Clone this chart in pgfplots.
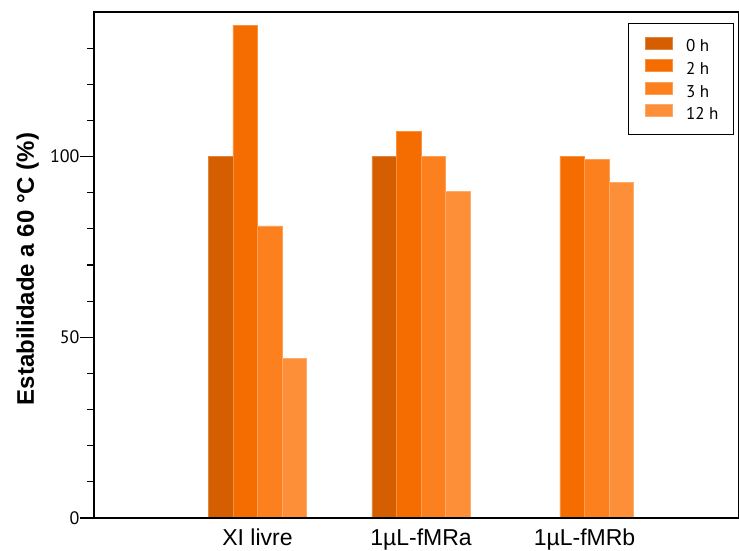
\documentclass[border=0pt]{standalone}
\usepackage{pgfplots}
\pgfplotsset{compat=1.18}
\usepackage{fontspec}
\setmainfont{Liberation Sans}
\newfontfamily\tickfont{PT Sans}
\definecolor{c0}{RGB}{212,94,0}
\definecolor{c1}{RGB}{245,108,0}
\definecolor{c2}{RGB}{252,128,30}
\definecolor{c3}{RGB}{253,143,56}
\begin{document}
\begin{tikzpicture}
\useasboundingbox (-94pt,-33pt) rectangle (645pt,518pt);
\begin{axis}[
  at={(0pt,0pt)}, anchor=south west,
  scale only axis, width=645pt, height=506pt,
  xmin=0, xmax=3.945, ymin=0, ymax=140,
  xtick={1,2,3}, xticklabels={XI livre, 1µL-fMRa, 1µL-fMRb},
  x tick label style={font=\fontsize{23}{26}\selectfont, yshift=7pt},
  xtick style={draw=none},
  ytick={0,50,100}, minor ytick={10,20,30,40,60,70,80,90,110,120,130},
  tick align=outside, major tick length=14pt, minor tick length=7pt,
  ytick style={black, line width=1.2pt},
  y tick label style={font=\tickfont\fontsize{18}{20}\selectfont, xshift=3pt},
  /pgf/number format/assume math mode=true,
  ylabel={Estabilidade a 60 °C (\%)},
  ylabel style={font=\bfseries\fontsize{24}{28}\selectfont,
    at={(axis description cs:0,0.5)}, anchor=base, yshift=60pt, xshift=-4pt},
  axis line style={line width=1.5pt},
  bar width=0.15,
  legend style={at={(1,1)}, anchor=north east, xshift=-5pt, yshift=-11pt,
    draw=black, line width=1.2pt, font=\tickfont\fontsize{17}{19}\selectfont,
    inner xsep=17pt, inner ysep=13pt, row sep=5.3pt, column sep=11pt,
    nodes={inner xsep=2pt, inner ysep=0pt, text height=12pt, text depth=2pt}},
  legend cell align=left,
  legend image code/.code={\fill[#1] (0pt,-2pt) rectangle (27pt,10pt);},
  axis on top,
]
\addplot[ybar, bar shift=-0.225, fill=c0, draw=c0!75!white, line width=0.6pt]
  coordinates {(1,100) (2,100)};
\addplot[ybar, bar shift=-0.075, fill=c1, draw=c1!75!white, line width=0.6pt]
  coordinates {(1,136.4) (2,106.9) (3,100)};
\addplot[ybar, bar shift=0.075, fill=c2, draw=c2!75!white, line width=0.6pt]
  coordinates {(1,80.8) (2,100) (3,99.2)};
\addplot[ybar, bar shift=0.225, fill=c3, draw=c3!75!white, line width=0.6pt]
  coordinates {(1,44.2) (2,90.3) (3,92.8)};
\legend{0 h\hspace*{-4pt}, 2 h\hspace*{-4pt}, 3 h\hspace*{-4pt}, 12 h\hspace*{-4pt}}
\end{axis}
\end{tikzpicture}
\end{document}
